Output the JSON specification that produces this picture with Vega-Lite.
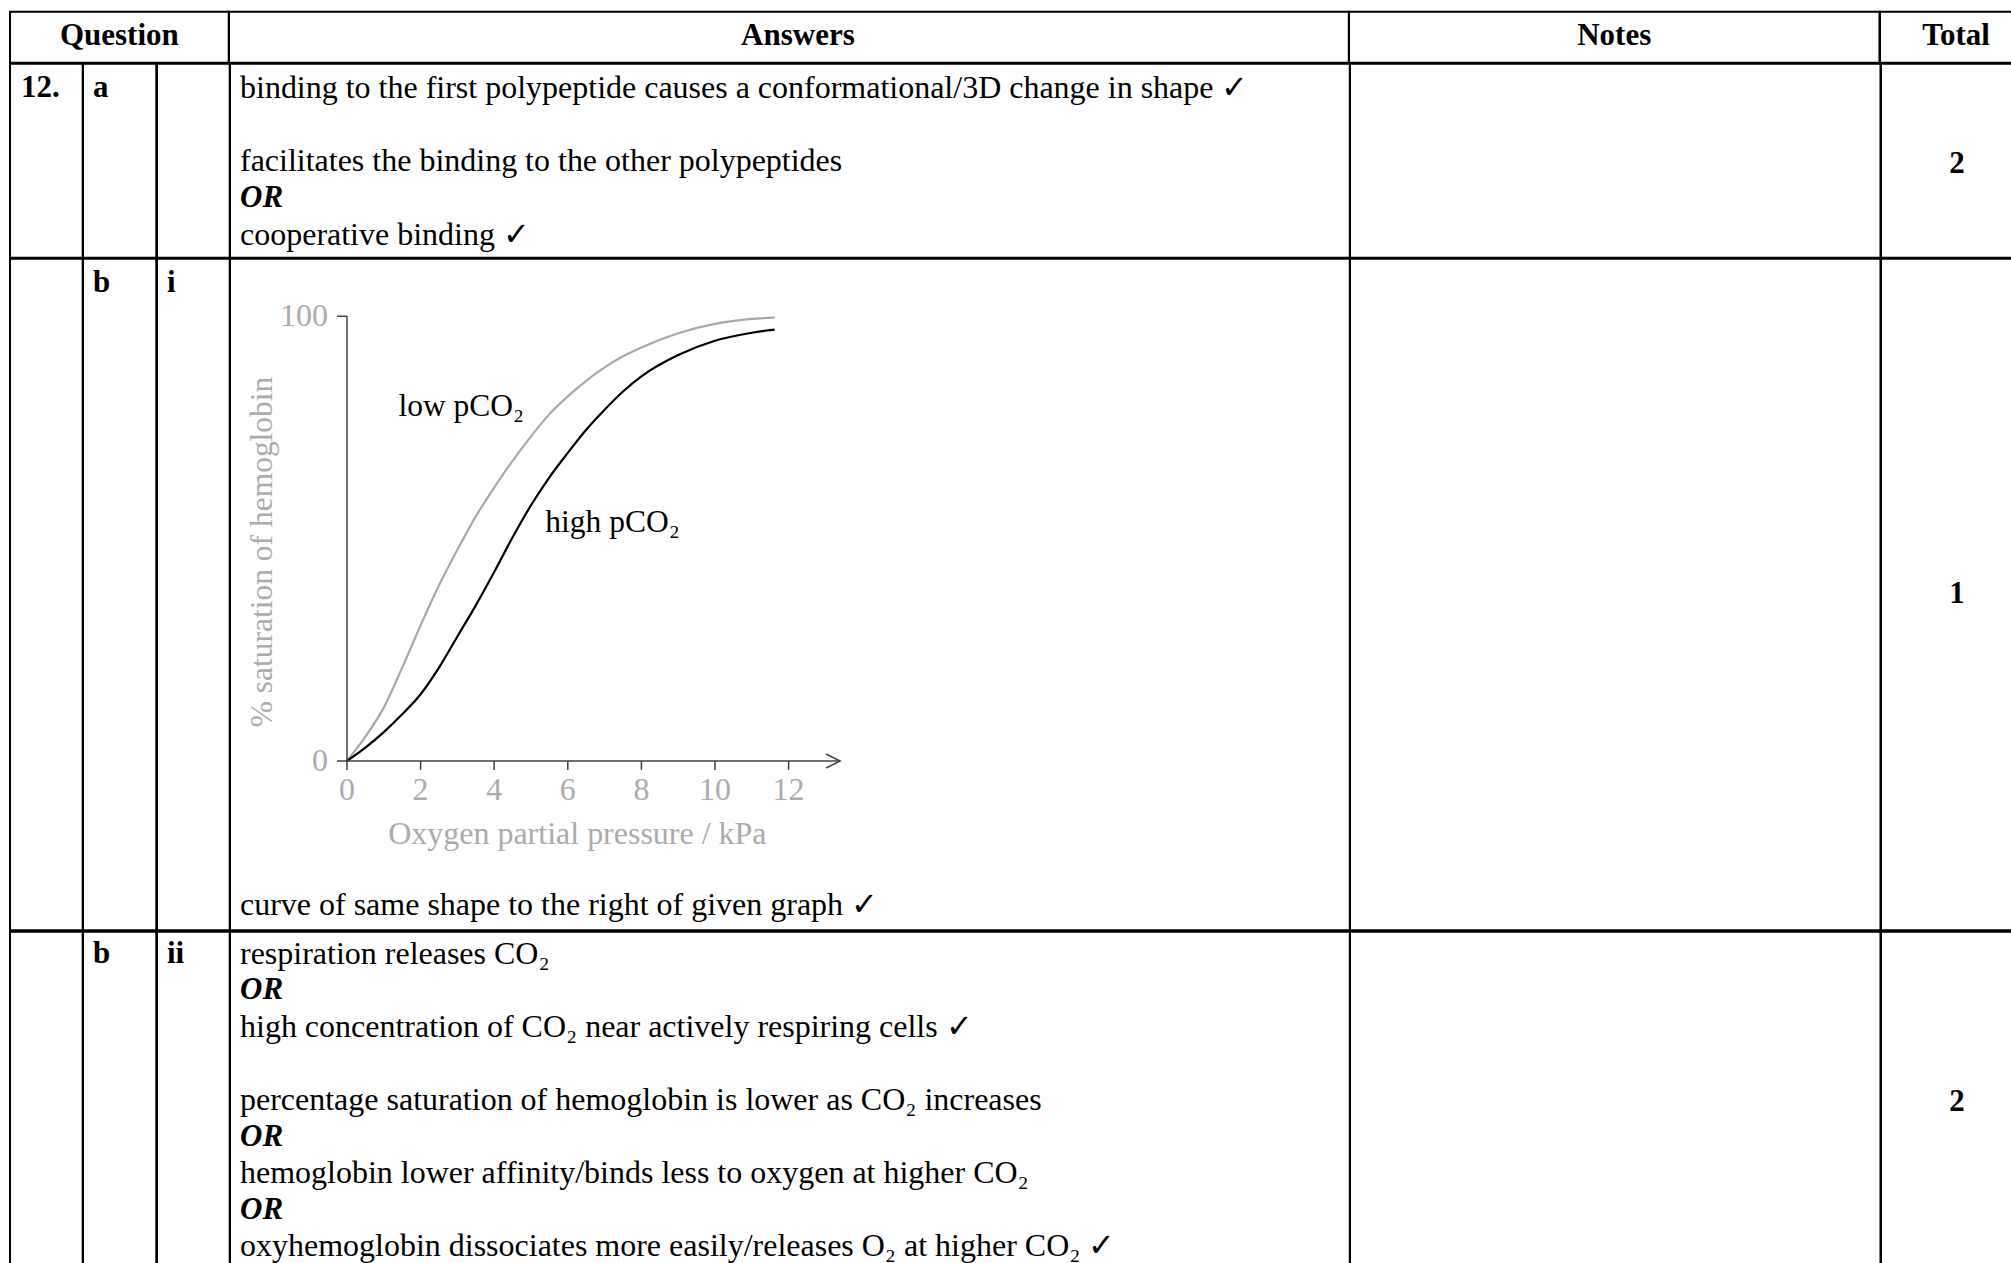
{
  "$schema": "https://vega.github.io/schema/vega-lite/v6.json",
  "padding": {"left": 9, "top": 10.7, "right": 0, "bottom": 0},
  "background": "white",
  "config": {
    "font": "Liberation Serif",
    "view": {"stroke": "#000000", "strokeWidth": 2},
    "text": {"fontSize": 32, "color": "#000000", "font": "Liberation Serif"}
  },
  "spacing": -2,
  "bounds": "full",
  "vconcat": [
    {
      "spacing": 0,
      "bounds": "flush",
      "hconcat": [
        {"width": 218.7, "height": 51, "data": {"values": [{"line": 0, "text": "Question"}]},
         "mark": {"type": "text", "fontWeight": "bold", "fontSize": 31, "baseline": "middle"},
         "encoding": {"y": {"field": "line", "type": "quantitative", "scale": {"domain": [-0.669, 0.724], "reverse": true, "nice": false, "zero": false}, "axis": null}, "text": {"field": "text"}}},
        {"width": 1119.8, "height": 51, "data": {"values": [{"line": 0, "text": "Answers"}]},
         "mark": {"type": "text", "fontWeight": "bold", "fontSize": 31, "baseline": "middle", "dx": 9},
         "encoding": {"y": {"field": "line", "type": "quantitative", "scale": {"domain": [-0.669, 0.724], "reverse": true, "nice": false, "zero": false}, "axis": null}, "text": {"field": "text"}}},
        {"width": 530.5, "height": 51, "data": {"values": [{"line": 0, "text": "Notes"}]},
         "mark": {"type": "text", "fontWeight": "bold", "fontSize": 31, "baseline": "middle"},
         "encoding": {"y": {"field": "line", "type": "quantitative", "scale": {"domain": [-0.669, 0.724], "reverse": true, "nice": false, "zero": false}, "axis": null}, "text": {"field": "text"}}},
        {"width": 156, "height": 51, "data": {"values": [{"line": 0, "text": "Total"}]},
         "mark": {"type": "text", "fontWeight": "bold", "fontSize": 31, "baseline": "middle", "dx": -2},
         "encoding": {"y": {"field": "line", "type": "quantitative", "scale": {"domain": [-0.669, 0.724], "reverse": true, "nice": false, "zero": false}, "axis": null}, "text": {"field": "text"}}}
      ]
    },
    {
      "spacing": 0,
      "bounds": "flush",
      "hconcat": [
        {"width": 72.7, "height": 194, "data": {"values": [{"line": 0, "text": "12."}]},
         "mark": {"type": "text", "fontWeight": "bold", "fontSize": 31, "align": "left", "baseline": "middle"},
         "encoding": {"x": {"value": 11}, "y": {"field": "line", "type": "quantitative", "scale": {"domain": [-0.669, 4.632], "reverse": true, "nice": false, "zero": false}, "axis": null}, "text": {"field": "text"}}},
        {"width": 73.3, "height": 194, "data": {"values": [{"line": 0, "text": "a"}]},
         "mark": {"type": "text", "fontWeight": "bold", "fontSize": 31, "align": "left", "baseline": "middle"},
         "encoding": {"x": {"value": 10}, "y": {"field": "line", "type": "quantitative", "scale": {"domain": [-0.669, 4.632], "reverse": true, "nice": false, "zero": false}, "axis": null}, "text": {"field": "text"}}},
        {"width": 72.7, "height": 194, "data": {"values": [{}]}, "mark": {"type": "text", "text": ""},
         "encoding": {"y": {"datum": 0, "scale": {"domain": [-1, 1]}, "axis": null}}},
        {"width": 1119.8, "height": 194,
         "layer": [
           {"data": {"values": [
              {"line": 0, "text": "binding to the first polypeptide causes a conformational/3D change in shape ✓"},
              {"line": 2, "text": "facilitates the binding to the other polypeptides"},
              {"line": 4, "text": "cooperative binding ✓"}]},
            "mark": {"type": "text", "align": "left", "baseline": "middle"},
            "encoding": {"x": {"value": 10}, "y": {"field": "line", "type": "quantitative", "scale": {"domain": [-0.669, 4.632], "reverse": true, "nice": false, "zero": false}, "axis": null}, "text": {"field": "text"}}},
           {"data": {"values": [{"line": 3, "text": "OR"}]},
            "mark": {"type": "text", "align": "left", "baseline": "middle", "fontWeight": "bold", "fontStyle": "italic", "fontSize": 31},
            "encoding": {"x": {"value": 10}, "y": {"field": "line", "type": "quantitative", "scale": {"domain": [-0.669, 4.632], "reverse": true, "nice": false, "zero": false}, "axis": null}, "text": {"field": "text"}}}
         ]},
        {"width": 530.5, "height": 194, "data": {"values": [{}]}, "mark": {"type": "text", "text": ""},
         "encoding": {"y": {"datum": 0, "scale": {"domain": [-1, 1]}, "axis": null}}},
        {"width": 156, "height": 194, "data": {"values": [{"text": "2"}]},
         "mark": {"type": "text", "fontWeight": "bold", "fontSize": 31, "baseline": "middle", "dx": -2, "dy": 3},
         "encoding": {"y": {"datum": 0, "scale": {"domain": [-1, 1]}, "axis": null}, "text": {"field": "text"}}}
      ]
    },
    {
      "spacing": 0,
      "bounds": "flush",
      "hconcat": [
        {"width": 72.7, "height": 671.6, "data": {"values": [{}]}, "mark": {"type": "text", "text": ""},
         "encoding": {"y": {"datum": 0, "scale": {"domain": [-1, 1]}, "axis": null}}},
        {"width": 73.3, "height": 671.6, "data": {"values": [{"line": 0, "text": "b"}]},
         "mark": {"type": "text", "fontWeight": "bold", "fontSize": 31, "align": "left", "baseline": "middle"},
         "encoding": {"x": {"value": 10}, "y": {"field": "line", "type": "quantitative", "scale": {"domain": [-0.669, 17.68], "reverse": true, "nice": false, "zero": false}, "axis": null}, "text": {"field": "text"}}},
        {"width": 72.7, "height": 671.6, "data": {"values": [{"line": 0, "text": "i"}]},
         "mark": {"type": "text", "fontWeight": "bold", "fontSize": 31, "align": "left", "baseline": "middle"},
         "encoding": {"x": {"value": 10}, "y": {"field": "line", "type": "quantitative", "scale": {"domain": [-0.669, 17.68], "reverse": true, "nice": false, "zero": false}, "axis": null}, "text": {"field": "text"}}},
        {"width": 1119.8, "height": 671.6,
         "resolve": {"scale": {"y": "independent"}},
         "layer": [
           {"data": {"values": [
              {"series": "low pCO₂", "pO2": 0, "sat": 0},
              {"series": "low pCO₂", "pO2": 0.5, "sat": 5.5},
              {"series": "low pCO₂", "pO2": 1, "sat": 12},
              {"series": "low pCO₂", "pO2": 1.5, "sat": 21},
              {"series": "low pCO₂", "pO2": 2, "sat": 30.5},
              {"series": "low pCO₂", "pO2": 2.5, "sat": 39.5},
              {"series": "low pCO₂", "pO2": 3, "sat": 47.5},
              {"series": "low pCO₂", "pO2": 3.5, "sat": 55},
              {"series": "low pCO₂", "pO2": 4, "sat": 61.5},
              {"series": "low pCO₂", "pO2": 4.5, "sat": 67.5},
              {"series": "low pCO₂", "pO2": 5, "sat": 73},
              {"series": "low pCO₂", "pO2": 5.5, "sat": 78},
              {"series": "low pCO₂", "pO2": 6, "sat": 82},
              {"series": "low pCO₂", "pO2": 6.5, "sat": 85.5},
              {"series": "low pCO₂", "pO2": 7, "sat": 88.5},
              {"series": "low pCO₂", "pO2": 7.5, "sat": 91},
              {"series": "low pCO₂", "pO2": 8, "sat": 93},
              {"series": "low pCO₂", "pO2": 9, "sat": 96.2},
              {"series": "low pCO₂", "pO2": 10, "sat": 98.3},
              {"series": "low pCO₂", "pO2": 11, "sat": 99.4},
              {"series": "low pCO₂", "pO2": 11.62, "sat": 99.7},
              {"series": "high pCO₂", "pO2": 0, "sat": 0},
              {"series": "high pCO₂", "pO2": 0.5, "sat": 3},
              {"series": "high pCO₂", "pO2": 1, "sat": 6.5},
              {"series": "high pCO₂", "pO2": 1.5, "sat": 10.5},
              {"series": "high pCO₂", "pO2": 2, "sat": 15},
              {"series": "high pCO₂", "pO2": 2.5, "sat": 21},
              {"series": "high pCO₂", "pO2": 3, "sat": 28},
              {"series": "high pCO₂", "pO2": 3.5, "sat": 35},
              {"series": "high pCO₂", "pO2": 4, "sat": 42.5},
              {"series": "high pCO₂", "pO2": 4.5, "sat": 50.3},
              {"series": "high pCO₂", "pO2": 5, "sat": 57.5},
              {"series": "high pCO₂", "pO2": 5.5, "sat": 63.8},
              {"series": "high pCO₂", "pO2": 6, "sat": 69.3},
              {"series": "high pCO₂", "pO2": 6.5, "sat": 74.5},
              {"series": "high pCO₂", "pO2": 7, "sat": 79},
              {"series": "high pCO₂", "pO2": 7.5, "sat": 83.1},
              {"series": "high pCO₂", "pO2": 8, "sat": 86.5},
              {"series": "high pCO₂", "pO2": 9, "sat": 91.3},
              {"series": "high pCO₂", "pO2": 10, "sat": 94.5},
              {"series": "high pCO₂", "pO2": 11, "sat": 96.3},
              {"series": "high pCO₂", "pO2": 11.62, "sat": 97}
            ]},
            "layer": [
              {"mark": {"type": "line", "interpolate": "monotone", "strokeWidth": 2.2},
               "encoding": {
                 "x": {"field": "pO2", "type": "quantitative", "scale": {"domain": [-3.179, 27.25], "nice": false, "zero": false}, "axis": null},
                 "y": {"field": "sat", "type": "quantitative", "scale": {"domain": [-38.07, 112.95], "nice": false, "zero": false}, "axis": null},
                 "color": {"field": "series", "type": "nominal", "scale": {"domain": ["low pCO₂", "high pCO₂"], "range": ["#a8a8a8", "#000000"]}, "legend": null}
               }},
              {"data": {"values": [{}]},
               "mark": {"type": "rule", "color": "#404040", "strokeWidth": 1.5},
               "encoding": {"x": {"datum": 0}, "y": {"datum": 0}, "y2": {"datum": 100}}},
              {"data": {"values": [{}]},
               "mark": {"type": "rule", "color": "#404040", "strokeWidth": 1.5},
               "encoding": {"x": {"datum": -0.27}, "x2": {"datum": 13.4}, "y": {"datum": 0}}},
              {"data": {"values": [{}]},
               "mark": {"type": "rule", "color": "#404040", "strokeWidth": 1.5},
               "encoding": {"x": {"datum": -0.27}, "x2": {"datum": 0}, "y": {"datum": 100}}},
              {"data": {"values": [{}]},
               "mark": {"type": "point", "shape": "M-2,-1L0,0L-2,1", "size": 196, "filled": false, "color": "#404040", "strokeWidth": 1.5, "opacity": 1},
               "encoding": {"x": {"datum": 13.4}, "y": {"datum": 0}}},
              {"data": {"values": [{"pO2": 0}, {"pO2": 2}, {"pO2": 4}, {"pO2": 6}, {"pO2": 8}, {"pO2": 10}, {"pO2": 12}]},
               "layer": [
                 {"mark": {"type": "rule", "color": "#404040", "strokeWidth": 1.5},
                  "encoding": {"x": {"field": "pO2", "type": "quantitative"}, "y": {"datum": 0}, "y2": {"datum": -2}}},
                 {"mark": {"type": "text", "baseline": "middle", "dy": 29, "color": "#ababab", "fontSize": 32},
                  "encoding": {"x": {"field": "pO2", "type": "quantitative"}, "y": {"datum": 0}, "text": {"field": "pO2", "type": "quantitative", "format": "d"}}}
               ]},
              {"data": {"values": [{"sat": 0}, {"sat": 100}]},
               "mark": {"type": "text", "align": "right", "baseline": "middle", "dx": -19, "color": "#ababab", "fontSize": 32},
               "encoding": {"x": {"datum": 0}, "y": {"field": "sat", "type": "quantitative"}, "text": {"field": "sat", "type": "quantitative", "format": "d"}}},
              {"data": {"values": [{}]},
               "mark": {"type": "text", "text": "Oxygen partial pressure / kPa", "baseline": "middle", "color": "#ababab", "fontSize": 32},
               "encoding": {"x": {"datum": 6.26}, "y": {"datum": -16.4}}},
              {"data": {"values": [{}]},
               "mark": {"type": "text", "text": "% saturation of hemoglobin", "baseline": "middle", "angle": 270, "color": "#ababab", "fontSize": 31.5},
               "encoding": {"x": {"datum": -2.27}, "y": {"datum": 47}}},
              {"data": {"values": [{}]},
               "mark": {"type": "text", "text": "low pCO₂", "align": "left", "baseline": "alphabetic", "color": "#000000", "fontSize": 31.5},
               "encoding": {"x": {"datum": 1.4}, "y": {"datum": 77.5}}},
              {"data": {"values": [{}]},
               "mark": {"type": "text", "text": "high pCO₂", "align": "left", "baseline": "alphabetic", "color": "#000000", "fontSize": 31.5},
               "encoding": {"x": {"datum": 5.39}, "y": {"datum": 51.6}}}
            ]},
           {"data": {"values": [{"line": 17, "text": "curve of same shape to the right of given graph ✓"}]},
            "mark": {"type": "text", "align": "left", "baseline": "middle"},
            "encoding": {"x": {"value": 10}, "y": {"field": "line", "type": "quantitative", "scale": {"domain": [-0.669, 17.68], "reverse": true, "nice": false, "zero": false}, "axis": null}, "text": {"field": "text"}}}
         ]},
        {"width": 530.5, "height": 671.6, "data": {"values": [{}]}, "mark": {"type": "text", "text": ""},
         "encoding": {"y": {"datum": 0, "scale": {"domain": [-1, 1]}, "axis": null}}},
        {"width": 156, "height": 671.6, "data": {"values": [{"text": "1"}]},
         "mark": {"type": "text", "fontWeight": "bold", "fontSize": 31, "baseline": "middle", "dx": -2},
         "encoding": {"y": {"datum": 0, "scale": {"domain": [-1, 1]}, "axis": null}, "text": {"field": "text"}}}
      ]
    },
    {
      "spacing": 0,
      "bounds": "flush",
      "hconcat": [
        {"width": 72.7, "height": 341, "data": {"values": [{}]}, "mark": {"type": "text", "text": ""},
         "encoding": {"y": {"datum": 0, "scale": {"domain": [-1, 1]}, "axis": null}}},
        {"width": 73.3, "height": 341, "data": {"values": [{"line": 0, "text": "b"}]},
         "mark": {"type": "text", "fontWeight": "bold", "fontSize": 31, "align": "left", "baseline": "middle"},
         "encoding": {"x": {"value": 10}, "y": {"field": "line", "type": "quantitative", "scale": {"domain": [-0.6, 8.717], "reverse": true, "nice": false, "zero": false}, "axis": null}, "text": {"field": "text"}}},
        {"width": 72.7, "height": 341, "data": {"values": [{"line": 0, "text": "ii"}]},
         "mark": {"type": "text", "fontWeight": "bold", "fontSize": 31, "align": "left", "baseline": "middle"},
         "encoding": {"x": {"value": 10}, "y": {"field": "line", "type": "quantitative", "scale": {"domain": [-0.6, 8.717], "reverse": true, "nice": false, "zero": false}, "axis": null}, "text": {"field": "text"}}},
        {"width": 1119.8, "height": 341,
         "layer": [
           {"data": {"values": [
              {"line": 0, "text": "respiration releases CO₂"},
              {"line": 2, "text": "high concentration of CO₂ near actively respiring cells ✓"},
              {"line": 4, "text": "percentage saturation of hemoglobin is lower as CO₂ increases"},
              {"line": 6, "text": "hemoglobin lower affinity/binds less to oxygen at higher CO₂"},
              {"line": 8, "text": "oxyhemoglobin dissociates more easily/releases O₂ at higher CO₂ ✓"}]},
            "mark": {"type": "text", "align": "left", "baseline": "middle"},
            "encoding": {"x": {"value": 10}, "y": {"field": "line", "type": "quantitative", "scale": {"domain": [-0.6, 8.717], "reverse": true, "nice": false, "zero": false}, "axis": null}, "text": {"field": "text"}}},
           {"data": {"values": [{"line": 1, "text": "OR"}, {"line": 5, "text": "OR"}, {"line": 7, "text": "OR"}]},
            "mark": {"type": "text", "align": "left", "baseline": "middle", "fontWeight": "bold", "fontStyle": "italic", "fontSize": 31},
            "encoding": {"x": {"value": 10}, "y": {"field": "line", "type": "quantitative", "scale": {"domain": [-0.6, 8.717], "reverse": true, "nice": false, "zero": false}, "axis": null}, "text": {"field": "text"}}}
         ]},
        {"width": 530.5, "height": 341, "data": {"values": [{}]}, "mark": {"type": "text", "text": ""},
         "encoding": {"y": {"datum": 0, "scale": {"domain": [-1, 1]}, "axis": null}}},
        {"width": 156, "height": 341, "data": {"values": [{"text": "2"}]},
         "mark": {"type": "text", "fontWeight": "bold", "fontSize": 31, "baseline": "middle", "dx": -2},
         "encoding": {"y": {"datum": 0, "scale": {"domain": [-1, 1]}, "axis": null}, "text": {"field": "text"}}}
      ]
    }
  ]
}
